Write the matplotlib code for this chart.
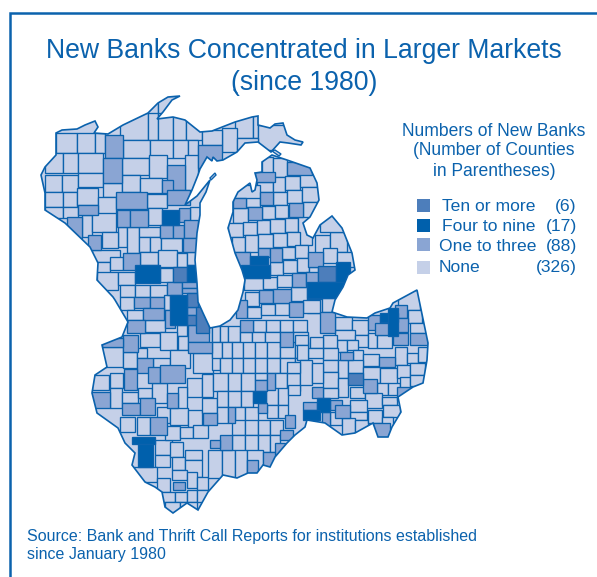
import matplotlib
matplotlib.use("Agg")
import matplotlib.pyplot as plt
from matplotlib.patches import Polygon, Rectangle

plt.rcParams["font.family"] = ["Liberation Sans", "DejaVu Sans"]

BLUE = "#0b62ad"
# 0 none, 1 one to three, 2 four to nine, 3 ten or more
COLORS = {"0": "#c5d0e8", "1": "#8aa5d3", "2": "#0060ac", "3": "#4d7ebb"}

title_lines = ["New Banks Concentrated in Larger Markets", "(since 1980)"]
legend_head = ["Numbers of New Banks", "(Number of Counties", "in Parentheses)"]
legend_cats = ["3", "2", "1", "0"]
legend_names = ["Ten or more", "Four to nine", "One to three", "None"]
legend_counts = ["(6)", "(17)", "(88)", "(326)"]
source_lines = ["Source: Bank and Thrift Call Reports for institutions established",
                "since January 1980"]

# map outline (pixels, y down)
outline = [(41,175),(45,167),(56,155),(56,133),(62,130),(77,129),(85,125),(95,121),(98,127),(94,133),
           (108,134),(123,125),(148,113),(158,103),(168,97),(180,96),(172,100),(163,112),(157,119),
           (173,117),(185,120),(200,132),(212,131),(235,122),(252,117),(258,116),(258,125),(270,128),
           (275,124),(283,123),(287,135),(295,140),(303,142),(301,145),(288,143),(280,142),(271,152),
           (258,142),(245,143),(237,152),(223,160),(217,161),(213,157),(212,161),(207,157),(200,169),
           (198,175),(192,190),(185,205),(197,196),(210,180),(206,192),(200,203),(200,215),(197,233),
           (195,260),(197,283),(198,302),(203,313),(210,328),(220,326),(230,320),(238,310),(243,292),
           (245,280),(242,270),(235,253),(228,228),(233,212),(233,202),(238,192),(250,183),(252,192),
           (255,190),(257,180),(255,173),(262,172),(262,162),(272,155),(287,160),(310,168),(317,183),
           (319,200),(310,217),(303,223),(307,235),(313,238),(320,225),(332,216),(342,228),(352,253),
           (355,270),(348,275),(343,287),(335,300),(332,312),(347,317),(367,318),(375,313),(390,308),
           (393,303),(417,290),(428,343),(427,360),(423,383),(413,387),(398,397),(401,412),(392,427),
           (388,437),(378,437),(373,423),(355,433),(342,435),(325,423),(307,420),(305,427),(295,435),
           (287,443),(275,457),(270,467),(263,465),(257,473),(248,473),(237,478),(223,475),(208,492),
           (198,510),(187,503),(173,513),(165,507),(162,492),(155,487),(145,482),(132,465),(135,453),
           (125,443),(118,428),(97,413),(92,393),(95,375),(107,367),(102,345),(122,337),(128,322),
           (115,300),(113,297),(97,280),(98,263),(90,247),(65,223),(45,210),(45,193)]
washington_island = [(210,178),(215,173),(216,175),(211,180)]
bois_blanc = [(272,151),(275,150),(281,154),(279,156)]
isle_royale = [(234,90),(237,93)]

# county rows: top, bottom, column edges, class of each cell
wisconsin_rows = [
    (96,114,[146,158,182],"00"), (113,140,[120,148,158,173,186,202],"00000"),
    (115,138,[235,253,258],"00"), (125,150,[258,305],"0"), (128,152,[222,237],"0"),
    (130,145,[202,222],"0"), (138,150,[237,258],"0"), (145,168,[198,222],"1"),
    (133,153,[56,77,95,105],"000"), (135,158,[105,123],"1"), (140,158,[123,150,173,188,198],"0000"),
    (153,173,[45,63,78,103],"000"), (158,183,[103,122],"1"), (158,175,[122,149],"0"),
    (155,178,[149,167],"0"), (165,190,[167,185],"1"), (155,190,[185,198],"0"),
    (180,193,[162,173],"1"), (190,205,[167,190],"1"),
    (175,192,[45,62,78],"00"), (173,187,[78,103],"0"), (183,197,[103,122],"0"),
    (175,192,[122,140],"0"), (178,193,[140,162],"0"),
    (192,207,[45,63,77],"00"), (188,205,[77,98],"0"), (197,222,[98,116],"0"),
    (192,209,[116,147],"1"), (194,208,[147,167],"0"),
    (207,218,[45,63,78],"00"), (205,215,[78,98],"1"),
    (217,238,[67,82],"1"), (215,237,[82,92],"0"), (213,232,[92,116],"0"),
    (210,227,[117,130,148],"11"), (208,225,[148,162],"0"), (210,225,[162,179],"2"),
    (208,222,[179,190],"1"), (207,222,[190,203],"0"),
    (227,247,[118,127],"0"), (227,253,[127,139],"0"), (227,237,[139,160],"0"),
    (225,238,[160,173,184],"11"), (220,238,[184,198],"1"),
    (232,248,[102,118],"0"), (235,250,[88,101],"1"),
    (237,252,[139,150,161],"00"), (238,252,[161,182],"0"), (238,252,[183,197],"1"),
    (250,262,[92,120],"0"), (253,270,[123,140],"1"), (252,265,[140,158],"0"),
    (250,267,[158,177],"0"), (253,267,[177,187],"0"), (252,265,[187,197],"0"),
    (262,278,[93,110],"0"), (257,270,[110,123],"0"), (265,283,[135,160],"2"),
    (268,282,[160,173],"0"), (267,282,[173,187],"3"), (265,282,[187,197],"2"),
    (272,290,[97,118],"0"), (272,285,[118,135],"0"),
]
illinois_rows = [
    (285,297,[120,135,150,167],"000"), (282,295,[167,182],"1"), (280,288,[182,198],"1"),
    (288,293,[182,198],"1"), (297,310,[120,134],"0"), (297,308,[134,150],"1"),
    (297,310,[150,164],"1"), (295,310,[164,170],"0"), (295,325,[170,187],"2"),
    (293,307,[187,198],"3"), (310,320,[127,143],"0"), (308,320,[143,164],"1"),
    (310,328,[165,175],"1"), (307,315,[187,202],"1"), (315,325,[187,196],"3"),
    (307,333,[196,209],"3"), (320,333,[127,145],"1"), (320,332,[145,165],"0"),
    (325,336,[177,187],"0"), (325,342,[188,209],"1"), (335,352,[123,138],"1"),
    (338,347,[102,123],"1"), (333,347,[140,160],"0"), (332,350,[160,177],"0"),
    (336,350,[178,188],"0"), (342,353,[188,212],"1"),
    (347,367,[102,123],"0"), (352,368,[123,137],"0"), (348,358,[137,147],"0"),
    (358,373,[137,153],"1"), (358,370,[153,170],"0"), (350,368,[170,190],"0"),
    (353,373,[193,213],"0"), (328,370,[212,220],"0"),
    (367,383,[148,160],"1"), (365,383,[160,185],"1"), (369,390,[124,137],"1"),
    (373,388,[110,123],"0"), (375,390,[92,109],"0"),
    (378,397,[187,202],"0"), (374,397,[202,213],"0"),
    (392,408,[90,110],"1"), (388,408,[110,122],"0"), (392,403,[122,138],"0"),
    (403,415,[122,140],"1"), (398,415,[140,155],"1"), (388,398,[138,152],"0"),
    (383,403,[152,167],"0"), (393,408,[167,178],"1"), (387,410,[178,187],"0"),
    (407,423,[157,170],"0"), (408,425,[170,188],"0"), (410,427,[188,202],"0"),
    (413,425,[203,217],"1"), (398,413,[202,217],"0"),
    (417,432,[120,135],"0"), (417,435,[137,150],"0"), (417,435,[150,167],"1"),
    (437,444,[132,155],"2"), (444,467,[138,153],"2"),
    (440,455,[155,172],"0"), (455,467,[155,170],"0"), (442,457,[170,183],"0"),
    (457,470,[172,185],"0"), (450,460,[185,202],"0"), (460,477,[185,202],"0"),
    (426,440,[165,180],"0"), (427,438,[180,193],"0"), (425,438,[193,208],"0"),
    (467,482,[130,157],"0"), (478,492,[157,170],"0"), (482,490,[173,185],"1"),
    (470,480,[172,187],"0"), (472,488,[187,197],"0"), (477,490,[197,208],"0"),
    (492,502,[160,175,187],"00"), (490,502,[187,197],"0"), (490,502,[197,210],"0"),
    (502,515,[165,180,197],"00"),
]
michigan_rows = [
    (157,173,[262,273],"0"), (158,177,[273,287],"0"), (162,175,[287,312],"1"),
    (172,182,[255,275],"1"), (182,192,[257,273],"0"), (177,192,[273,285],"0"),
    (176,190,[285,300],"0"), (174,187,[300,318],"0"),
    (198,208,[233,246],"1"), (197,207,[246,260],"0"), (192,205,[260,273],"1"),
    (192,205,[273,287],"0"), (190,203,[287,302],"0"), (187,202,[302,320],"0"),
    (185,198,[233,260],"0"),
    (208,223,[233,248],"0"), (207,220,[248,262],"1"), (206,219,[262,275],"0"),
    (205,218,[275,288],"0"), (203,217,[289,303],"1"), (202,218,[303,317],"0"),
    (223,237,[228,243],"0"), (222,235,[243,257],"0"), (220,234,[257,270],"0"),
    (219,233,[270,285],"0"), (218,232,[285,298],"0"), (217,245,[298,312],"0"),
    (237,252,[232,245],"0"), (235,252,[245,258],"0"), (234,248,[258,273],"0"),
    (233,247,[273,287],"0"), (232,246,[287,300],"0"), (235,253,[315,330],"0"),
    (232,252,[330,347],"0"), (215,232,[320,345],"0"),
    (252,266,[235,250],"1"), (248,257,[258,270],"1"), (248,262,[270,282],"1"),
    (247,259,[282,295],"0"), (245,258,[295,308],"0"), (252,267,[308,323],"1"),
    (248,263,[323,337],"0"), (252,267,[337,355],"0"),
    (256,265,[250,268],"2"), (265,278,[241,270],"2"),
    (262,275,[270,283],"0"), (260,273,[283,297],"0"), (258,272,[297,309],"0"),
    (267,275,[309,318],"0"), (266,282,[318,336],"3"), (262,282,[336,350],"2"),
    (278,290,[244,263],"0"), (277,289,[263,277],"0"), (275,287,[277,292],"0"),
    (273,287,[292,306],"1"), (272,285,[306,318],"1"), (282,298,[307,345],"2"),
    (292,306,[245,259],"0"), (290,303,[259,273],"1"), (289,303,[273,291],"1"),
    (287,301,[291,307],"0"), (299,313,[307,322],"0"), (298,312,[322,337],"0"),
    (300,318,[236,247],"1"), (307,318,[247,261],"0"), (304,315,[261,275],"0"),
    (303,315,[275,289],"0"), (302,317,[289,303],"1"), (300,313,[303,320],"0"),
]
indiana_rows = [
    (320,332,[240,253,266,280,293,307],"10000"), (326,342,[212,220,228,240],"000"),
    (332,347,[240,252,265,280,293,308],"00010"),
    (342,358,[212,222,232,243,255,267,280,295,308],"00000000"),
    (358,373,[220,232,243,255,267,280,295,308],"0000000"),
    (373,391,[213,228,241,255],"000"), (373,380,[255,267],"0"), (380,391,[255,267],"1"),
    (373,390,[267,275],"1"), (373,391,[275,287,300],"00"),
    (391,403,[253,266],"2"), (403,413,[258,267],"1"), (391,407,[217,228,241,253],"000"),
    (388,405,[266,278,288],"00"), (407,423,[217,228,235,245,258],"0100"),
    (405,418,[267,278,288],"00"), (420,435,[232,245,258,270,283],"0000"),
    (415,428,[285,295],"1"), (430,440,[280,293],"1"), (443,455,[275,285],"1"),
    (452,467,[263,275],"1"), (460,473,[247,258],"1"), (435,450,[220,232],"1"),
    (440,448,[210,220],"1"), (435,452,[232,245,258,270,280],"0000"),
    (450,478,[208,222,235,247,263],"0000"),
]
ohio_rows = [
    (312,333,[320,335],"1"), (317,330,[335,352],"0"), (320,335,[352,368],"0"),
    (315,330,[368,380],"1"), (323,335,[375,390],"1"), (313,322,[380,398],"2"),
    (308,336,[388,398],"2"), (305,318,[395,407],"1"), (318,332,[397,408],"1"),
    (290,310,[398,420],"0"), (310,323,[408,422],"0"), (323,333,[410,428],"0"),
    (333,345,[393,408],"1"), (333,345,[410,428],"1"),
    (330,340,[335,355],"0"), (335,347,[355,368],"0"), (333,348,[368,377],"0"),
    (335,348,[377,392],"0"), (340,352,[337,347],"0"), (340,350,[347,358],"0"),
    (352,360,[340,353],"1"), (350,363,[353,363],"0"), (354,366,[363,379],"0"),
    (357,367,[379,395],"1"), (347,365,[395,407],"0"), (353,363,[407,418],"0"),
    (347,362,[418,428],"0"), (335,348,[323,337],"0"), (337,348,[310,323],"0"),
    (335,345,[295,308],"0"), (348,360,[323,338],"0"), (348,358,[308,323],"0"),
    (345,360,[297,308],"0"), (360,372,[323,338],"0"), (360,378,[338,348],"0"),
    (360,373,[348,363],"0"), (367,383,[363,380],"0"), (368,385,[380,397],"0"),
    (365,378,[397,410],"0"), (363,375,[410,425],"0"), (373,385,[348,363],"3"),
    (379,393,[363,377],"1"), (383,395,[377,388,400],"00"), (377,388,[400,410],"0"),
    (375,386,[410,425],"0"), (387,400,[397,420],"1"),
    (372,388,[323,338],"0"), (378,397,[338,348],"0"), (387,398,[350,365],"0"),
    (393,408,[365,382],"0"), (397,405,[382,397],"0"), (405,417,[383,400],"0"),
    (360,385,[300,312],"0"), (363,383,[312,323],"0"), (362,373,[287,300],"0"),
    (385,395,[288,300],"0"), (387,398,[312,323],"1"), (388,398,[323,338],"0"),
    (402,410,[303,317],"1"), (398,412,[317,330],"2"), (400,410,[330,342],"1"),
    (410,420,[303,320],"2"), (412,427,[322,330],"1"), (412,425,[330,342],"0"),
    (405,418,[335,350],"1"), (400,412,[350,367],"0"), (412,420,[350,367],"0"),
    (418,435,[342,355],"0"), (420,435,[355,368],"0"), (410,423,[368,382],"0"),
    (423,440,[373,390],"1"), (417,428,[382,393],"0"),
]
all_rows = wisconsin_rows + illinois_rows + michigan_rows + indiana_rows + ohio_rows

fig = plt.figure(figsize=(5.97, 5.77), dpi=100)
ax = fig.add_axes([0, 0, 1, 1])
ax.set_xlim(0, 597)
ax.set_ylim(577, 0)
ax.axis("off")

# page frame, open to the right and the bottom
ax.plot([9.5, 9.5, 597], [577, 12.5, 12.5], color=BLUE, lw=1.8, solid_joinstyle="miter")

land = Polygon(outline, closed=True, facecolor=COLORS["0"], edgecolor="none", zorder=1)
ax.add_patch(land)

# shaded counties go last so neighbours do not paint over them
cells = []
for top, bottom, edges, cats in all_rows:
    for i, cat in enumerate(cats):
        cells.append((cat, edges[i], top, edges[i + 1] - edges[i], bottom - top))
for cat in ["0", "1", "3", "2"]:
    for c, x, y, w, h in cells:
        if c != cat:
            continue
        r = Rectangle((x, y), w, h, facecolor=COLORS[c], edgecolor=BLUE, lw=0.95, zorder=2)
        ax.add_patch(r)
        r.set_clip_path(land)

ax.add_patch(Polygon(outline, closed=True, facecolor="none", edgecolor=BLUE, lw=1.2, zorder=3))
ax.add_patch(Polygon(washington_island, closed=True, facecolor=COLORS["0"], edgecolor=BLUE, lw=1, zorder=3))
ax.add_patch(Polygon(bois_blanc, closed=True, facecolor=COLORS["0"], edgecolor=BLUE, lw=1, zorder=3))
ax.plot([p[0] for p in isle_royale], [p[1] for p in isle_royale], color=BLUE, lw=1)

for line, y in zip(title_lines, [58, 90]):
    ax.text(304, y, line, color=BLUE, fontsize=19.2, ha="center", va="baseline")
for line, y in zip(legend_head, [136, 155, 176]):
    ax.text(494, y, line, color=BLUE, fontsize=12.65, ha="center", va="baseline")

swatch_y = [199, 219, 238, 261]
text_x = [442, 442, 439, 439]
text_y = [211, 231, 251, 272]
for i in range(4):
    ax.add_patch(Rectangle((417, swatch_y[i]), 13, 13, facecolor=COLORS[legend_cats[i]], edgecolor="none"))
    ax.text(text_x[i], text_y[i], legend_names[i], color=BLUE, fontsize=12.6, va="baseline")
    ax.text(577, text_y[i], legend_counts[i], color=BLUE, fontsize=12.6, ha="right", va="baseline")

for line, y in zip(source_lines, [541, 559]):
    ax.text(27, y, line, color=BLUE, fontsize=11.5, va="baseline")

fig.savefig("out.png", dpi=100)
